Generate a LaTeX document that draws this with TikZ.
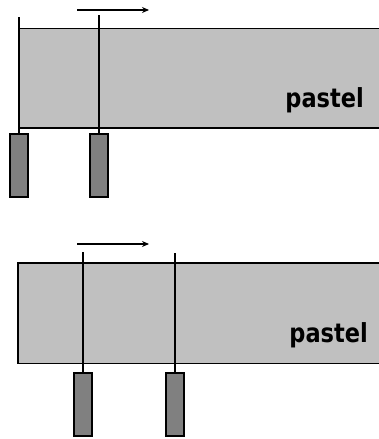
\documentclass[tikz,border=0pt]{standalone}
\usepackage{fontspec}
\usetikzlibrary{arrows.meta}
\newfontfamily\labfont{DejaVu Sans}
\definecolor{pastelgray}{HTML}{C0C0C0}
\definecolor{blockgray}{HTML}{808080}
\begin{document}
\begin{tikzpicture}[x=1pt,y=-1pt,
  bar/.style={fill=pastelgray,draw=none},
  edge/.style={draw=black,line width=1.6pt},
  block/.style={draw=black,fill=blockgray,line width=1.6pt,minimum width=18pt,minimum height=63pt,inner sep=0pt,outer sep=0pt,anchor=north},
  stick/.style={draw=black,line width=1.8pt},
  motion/.style={draw=black,line width=1.3pt,-{Stealth[length=7pt,width=6pt]}},
  lab/.style={font=\labfont\bfseries\fontsize{25}{25}\selectfont,anchor=base east,inner sep=0pt}]
\useasboundingbox (0,0) rectangle (378,439);
% ---- top panel ----
\fill[bar] (19,28.5) rectangle (379,128);
\draw[edge] (19,28.5) -- (379,28.5);
\draw[edge] (19,128) -- (379,128);
\node[block] (b1) at (19,134) {};
\node[block] (b2) at (99,134) {};
\coordinate (t1) at (19,17);
\coordinate (t2) at (98,15);
\draw[stick] (b1.north) -- (b1.north |- t1);
\draw[stick] (b2.north) -- (b2.north |- t2);
\coordinate (a1s) at (77,10);
\coordinate (a1e) at (149,10);
\draw[motion] (a1s) -- (a1e);
\node[lab] (p1) at (364,107) {\scalebox{0.9}[1.05]{pastel}};
% ---- bottom panel ----
\draw[edge,fill=pastelgray] (18,262.7) rectangle (380,363.3);
\node[block] (b3) at (83,373) {};
\node[block] (b4) at (175,373) {};
\coordinate (t3) at (82,251.7);
\coordinate (t4) at (174,253);
\draw[stick] (b3.north) -- (b3.north |- t3);
\draw[stick] (b4.north) -- (b4.north |- t4);
\coordinate (a2s) at (77,244);
\coordinate (a2e) at (149,244);
\draw[motion] (a2s) -- (a2e);
\node[lab] (p2) at (368,342.7) {\scalebox{0.9}[1.05]{pastel}};
\end{tikzpicture}
\end{document}
